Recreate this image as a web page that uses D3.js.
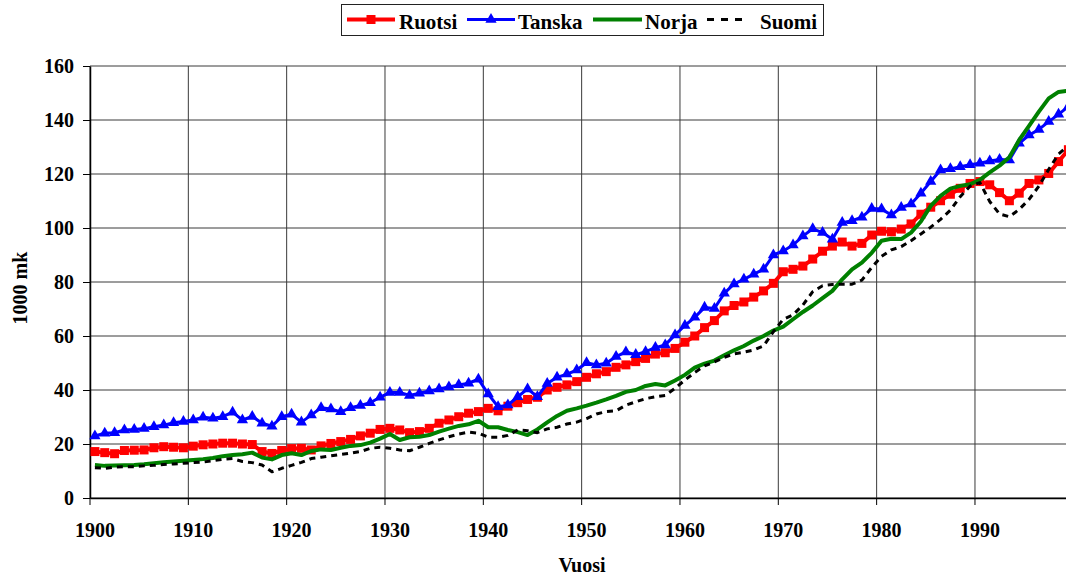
<!DOCTYPE html>
<html>
<head>
<meta charset="utf-8">
<script src="https://d3js.org/d3.v7.min.js"></script>
<style>
  body { margin: 0; background: #fff; }
  svg { display: block; font-family: "Liberation Serif", "Times New Roman", serif; font-weight: bold; }
</style>
</head>
<body>
<svg id="drawing_region"></svg>
<script>
const years = d3.range(1900, 2000);

const ruotsi = [
    17.2, 16.8, 16.4, 17.6, 17.7, 17.8, 18.6, 19.0, 18.8, 18.6,
    19.2, 19.7, 20.0, 20.3, 20.3, 20.0, 19.8, 17.2, 16.5, 17.6,
    18.3, 18.4, 17.8, 19.3, 20.2, 20.9, 21.7, 23.0, 24.0, 25.4,
    25.8, 25.2, 24.2, 24.6, 25.8, 27.7, 28.9, 30.1, 31.4, 32.0,
    33.2, 32.3, 34.0, 35.3, 36.5, 37.3, 40.0, 41.0, 41.9, 43.1,
    44.7, 46.0, 46.8, 48.4, 49.3, 50.5, 51.7, 53.3, 53.8, 55.4,
    57.7, 60.0, 63.1, 65.7, 69.3, 71.3, 72.6, 74.4, 76.7, 79.5,
    83.8, 84.7, 85.9, 88.5, 91.4, 93.3, 94.8, 93.3, 94.3, 97.4,
    98.8, 98.6, 99.6, 101.5, 105.1, 107.7, 110.1, 112.5, 114.7, 116.5,
    117.2, 116.0, 113.1, 110.1, 112.9, 116.5, 117.8, 120.2, 124.6, 129.0
];

const tanska = [
    23.0, 24.0, 24.2, 25.2, 25.4, 25.7, 26.4, 27.0, 27.9, 28.3,
    28.9, 29.9, 29.5, 30.1, 31.8, 28.9, 30.2, 27.7, 26.6, 30.1,
    31.0, 28.1, 30.7, 33.4, 33.0, 31.9, 33.4, 34.3, 35.3, 37.3,
    39.1, 39.1, 38.0, 38.8, 39.6, 40.4, 41.1, 41.9, 42.5, 44.0,
    38.5, 33.8, 34.4, 37.5, 40.4, 37.5, 42.4, 44.7, 45.9, 47.4,
    50.1, 49.3, 49.9, 52.4, 54.1, 53.1, 54.2, 55.7, 56.7, 60.4,
    63.9, 66.9, 70.6, 70.2, 75.8, 79.3, 81.0, 82.9, 84.7, 90.0,
    91.5, 93.7, 97.0, 99.7, 98.3, 95.8, 102.0, 102.7, 104.0, 107.2,
    107.0, 104.8, 107.6, 108.9, 112.9, 117.2, 121.5, 121.9, 122.7, 123.4,
    124.0, 124.8, 125.4, 125.2, 131.4, 134.4, 136.5, 139.4, 142.1, 145.0
];

const norja = [
    12.2, 11.9, 12.0, 12.1, 12.2, 12.5, 12.9, 13.2, 13.5, 13.8,
    14.1, 14.4, 14.8, 15.5, 15.9, 16.2, 16.8, 15.0, 14.3, 15.9,
    16.6, 15.9, 17.4, 18.0, 17.8, 18.6, 19.3, 19.6, 20.5, 22.0,
    23.7, 21.5, 22.5, 22.7, 23.3, 24.6, 25.7, 26.7, 27.3, 28.6,
    26.2, 26.2, 25.2, 24.4, 23.3, 25.4, 28.0, 30.4, 32.3, 33.2,
    34.2, 35.3, 36.5, 37.8, 39.3, 40.0, 41.5, 42.2, 41.7, 43.5,
    45.6, 48.3, 49.8, 50.9, 52.9, 54.7, 56.3, 58.3, 60.0, 62.0,
    63.5, 66.2, 68.9, 71.3, 74.0, 76.7, 81.0, 84.7, 87.2, 90.8,
    95.3, 96.0, 95.9, 98.3, 102.4, 108.2, 111.9, 114.6, 115.6, 116.2,
    117.8, 120.6, 123.1, 126.2, 132.6, 137.8, 143.1, 148.0, 150.4, 150.9
];

const suomi = [
    11.2, 11.0, 11.4, 11.6, 11.6, 11.9, 12.1, 12.4, 12.6, 12.9,
    13.1, 13.3, 13.8, 14.3, 14.6, 13.5, 13.1, 12.2, 9.7, 11.0,
    12.1, 13.2, 14.6, 15.1, 15.6, 16.1, 16.6, 17.2, 18.4, 18.8,
    18.4, 17.8, 17.5, 18.8, 20.2, 21.5, 22.7, 23.7, 24.4, 24.0,
    22.5, 22.5, 23.2, 25.2, 24.9, 24.2, 25.6, 26.2, 27.4, 28.1,
    29.4, 31.1, 32.0, 32.3, 34.4, 35.6, 36.8, 37.5, 38.0, 40.6,
    43.7, 46.5, 48.9, 50.4, 52.1, 53.4, 54.0, 54.8, 56.3, 61.6,
    66.2, 67.8, 71.5, 76.4, 78.6, 79.1, 79.2, 79.2, 80.7, 85.4,
    89.5, 91.9, 93.1, 95.3, 97.8, 100.3, 103.2, 106.6, 111.6, 115.5,
    116.8, 109.8, 105.2, 104.2, 106.9, 110.6, 115.5, 121.7, 127.4, 130.5
];

const series_names = ['Ruotsi', 'Tanska', 'Norja', 'Suomi'];
const series_values = [ruotsi, tanska, norja, suomi];
const decade_ticks = d3.range(1900, 2000, 10);
const y_ticks = d3.range(0, 161, 20);

const styles = {
    Ruotsi: { color: '#ff0000', width: 4, dash: null, marker: 'square' },
    Tanska: { color: '#0000ff', width: 3, dash: null, marker: 'triangle' },
    Norja:  { color: '#008000', width: 4, dash: null, marker: null },
    Suomi:  { color: '#000000', width: 3, dash: '6,5', marker: null }
};

class LineChart {

    constructor( config, data ) {
        this.config = config;
        this.data = data;
        this.init();
    }

    init() {
        let self = this;

        self.svg = d3.select( self.config.parent )
            .attr('width', self.config.width)
            .attr('height', self.config.height);

        self.inner_width = self.config.plot_width;
        self.inner_height = self.config.height - self.config.margin.top - self.config.margin.bottom;

        self.chart = self.svg.append('g')
            .attr('transform', `translate(${self.config.margin.left}, ${self.config.margin.top})`);

        self.xscale = d3.scaleBand()
            .domain( years )
            .range([0, self.inner_width]);

        self.yscale = d3.scaleLinear()
            .domain([0, 160])
            .range([self.inner_height, 0]);

        self.xaxis = d3.axisBottom( self.xscale )
            .tickValues( decade_ticks )
            .tickSize(7)
            .tickSizeOuter(0);

        self.yaxis = d3.axisLeft( self.yscale )
            .tickValues( y_ticks )
            .tickSize(7)
            .tickPadding(9)
            .tickSizeOuter(0);
    }

    render() {
        let self = this;
        const bw = self.xscale.bandwidth();
        const cx = d => self.xscale(d.year) + bw / 2;

        // grid
        self.chart.append('g').selectAll('line').data(y_ticks)
            .join('line')
            .attr('x1', 0).attr('x2', self.inner_width)
            .attr('y1', d => self.yscale(d)).attr('y2', d => self.yscale(d))
            .attr('stroke', '#3a3a3a').attr('stroke-width', 1);

        self.chart.append('g').selectAll('line').data(decade_ticks)
            .join('line')
            .attr('x1', d => self.xscale(d)).attr('x2', d => self.xscale(d))
            .attr('y1', 0).attr('y2', self.inner_height)
            .attr('stroke', '#3a3a3a').attr('stroke-width', 1);

        // axes
        const xg = self.chart.append('g')
            .attr('transform', `translate(0, ${self.inner_height})`)
            .call( self.xaxis )
            .attr('font-family', null)
            .attr('font-size', null);
        xg.selectAll('.tick line').attr('x1', -bw / 2).attr('x2', -bw / 2).attr('stroke', '#000');
        xg.selectAll('.tick text').attr('y', 25).style('font-size', '20px').attr('fill', '#000');
        xg.select('.domain').attr('stroke', '#000').attr('stroke-width', 1.5);

        const yg = self.chart.append('g')
            .call( self.yaxis )
            .attr('font-family', null)
            .attr('font-size', null);
        yg.selectAll('.tick text').style('font-size', '20px').attr('fill', '#000');
        yg.selectAll('.tick line').attr('stroke', '#000');
        yg.select('.domain').attr('stroke', '#000').attr('stroke-width', 1.5);

        // lines
        const line = d3.line()
            .x( cx )
            .y( d => self.yscale(d.value) );

        self.data.forEach( s => {
            const st = styles[s.name];
            const g = self.chart.append('g');
            g.append('path')
                .datum(s.values)
                .attr('d', line)
                .attr('fill', 'none')
                .attr('stroke', st.color)
                .attr('stroke-width', st.width)
                .attr('stroke-dasharray', st.dash)
                .attr('stroke-linejoin', 'round');

            if (st.marker == 'square') {
                g.selectAll('rect').data(s.values)
                    .join('rect')
                    .attr('x', d => cx(d) - 4.5)
                    .attr('y', d => self.yscale(d.value) - 4.5)
                    .attr('width', 9).attr('height', 9)
                    .attr('fill', st.color);
            }
            if (st.marker == 'triangle') {
                g.selectAll('path.m').data(s.values)
                    .join('path')
                    .attr('class', 'm')
                    .attr('transform', d => `translate(${cx(d)}, ${self.yscale(d.value)})`)
                    .attr('d', d3.symbol().type(d3.symbolTriangle).size(55))
                    .attr('fill', st.color);
            }
        });

        // axis titles
        self.svg.append('text')
            .attr('transform', 'translate(27, 288) rotate(-90)')
            .attr('text-anchor', 'middle')
            .style('font-size', '20px')
            .text('1000 mk');

        self.svg.append('text')
            .attr('x', 582)
            .attr('y', 572)
            .attr('text-anchor', 'middle')
            .style('font-size', '20px')
            .text('Vuosi');

        self.legend();
    }

    legend() {
        let self = this;
        const lg = self.svg.append('g');
        lg.append('rect')
            .attr('x', 341.5).attr('y', 4.5)
            .attr('width', 482).attr('height', 31)
            .attr('fill', '#fff').attr('stroke', '#222').attr('stroke-width', 1);

        const items = [
            { name: 'Ruotsi', x0: 347, x1: 395, tx: 399 },
            { name: 'Tanska', x0: 467, x1: 515, tx: 518 },
            { name: 'Norja',  x0: 593, x1: 642, tx: 645 },
            { name: 'Suomi',  x0: 707, x1: 748, tx: 760 }
        ];
        items.forEach( it => {
            const st = styles[it.name];
            lg.append('line')
                .attr('x1', it.x0).attr('x2', it.x1)
                .attr('y1', 19.5).attr('y2', 19.5)
                .attr('stroke', st.color)
                .attr('stroke-width', st.width)
                .attr('stroke-dasharray', it.name == 'Suomi' ? '7,7' : st.dash);
            const mx = (it.x0 + it.x1) / 2;
            if (st.marker == 'square') {
                lg.append('rect').attr('x', mx - 4.5).attr('y', 15).attr('width', 9).attr('height', 9).attr('fill', st.color);
            }
            if (st.marker == 'triangle') {
                lg.append('path')
                    .attr('transform', `translate(${mx}, 19.5)`)
                    .attr('d', d3.symbol().type(d3.symbolTriangle).size(55))
                    .attr('fill', st.color);
            }
            lg.append('text')
                .attr('x', it.tx).attr('y', 28.5)
                .style('font-size', '21px')
                .text(it.name);
        });
    }
}

const data = series_names.map( (name, i) => ({
    name: name,
    values: years.map( (y, j) => ({ year: y, value: series_values[i][j] }) )
}));

const config = {
    parent: '#drawing_region',
    width: 1066,
    height: 580,
    plot_width: 983.3,
    margin: {top: 66, right: 0, bottom: 82, left: 90}
};

const line_chart = new LineChart( config, data );
line_chart.render();
</script>
</body>
</html>
